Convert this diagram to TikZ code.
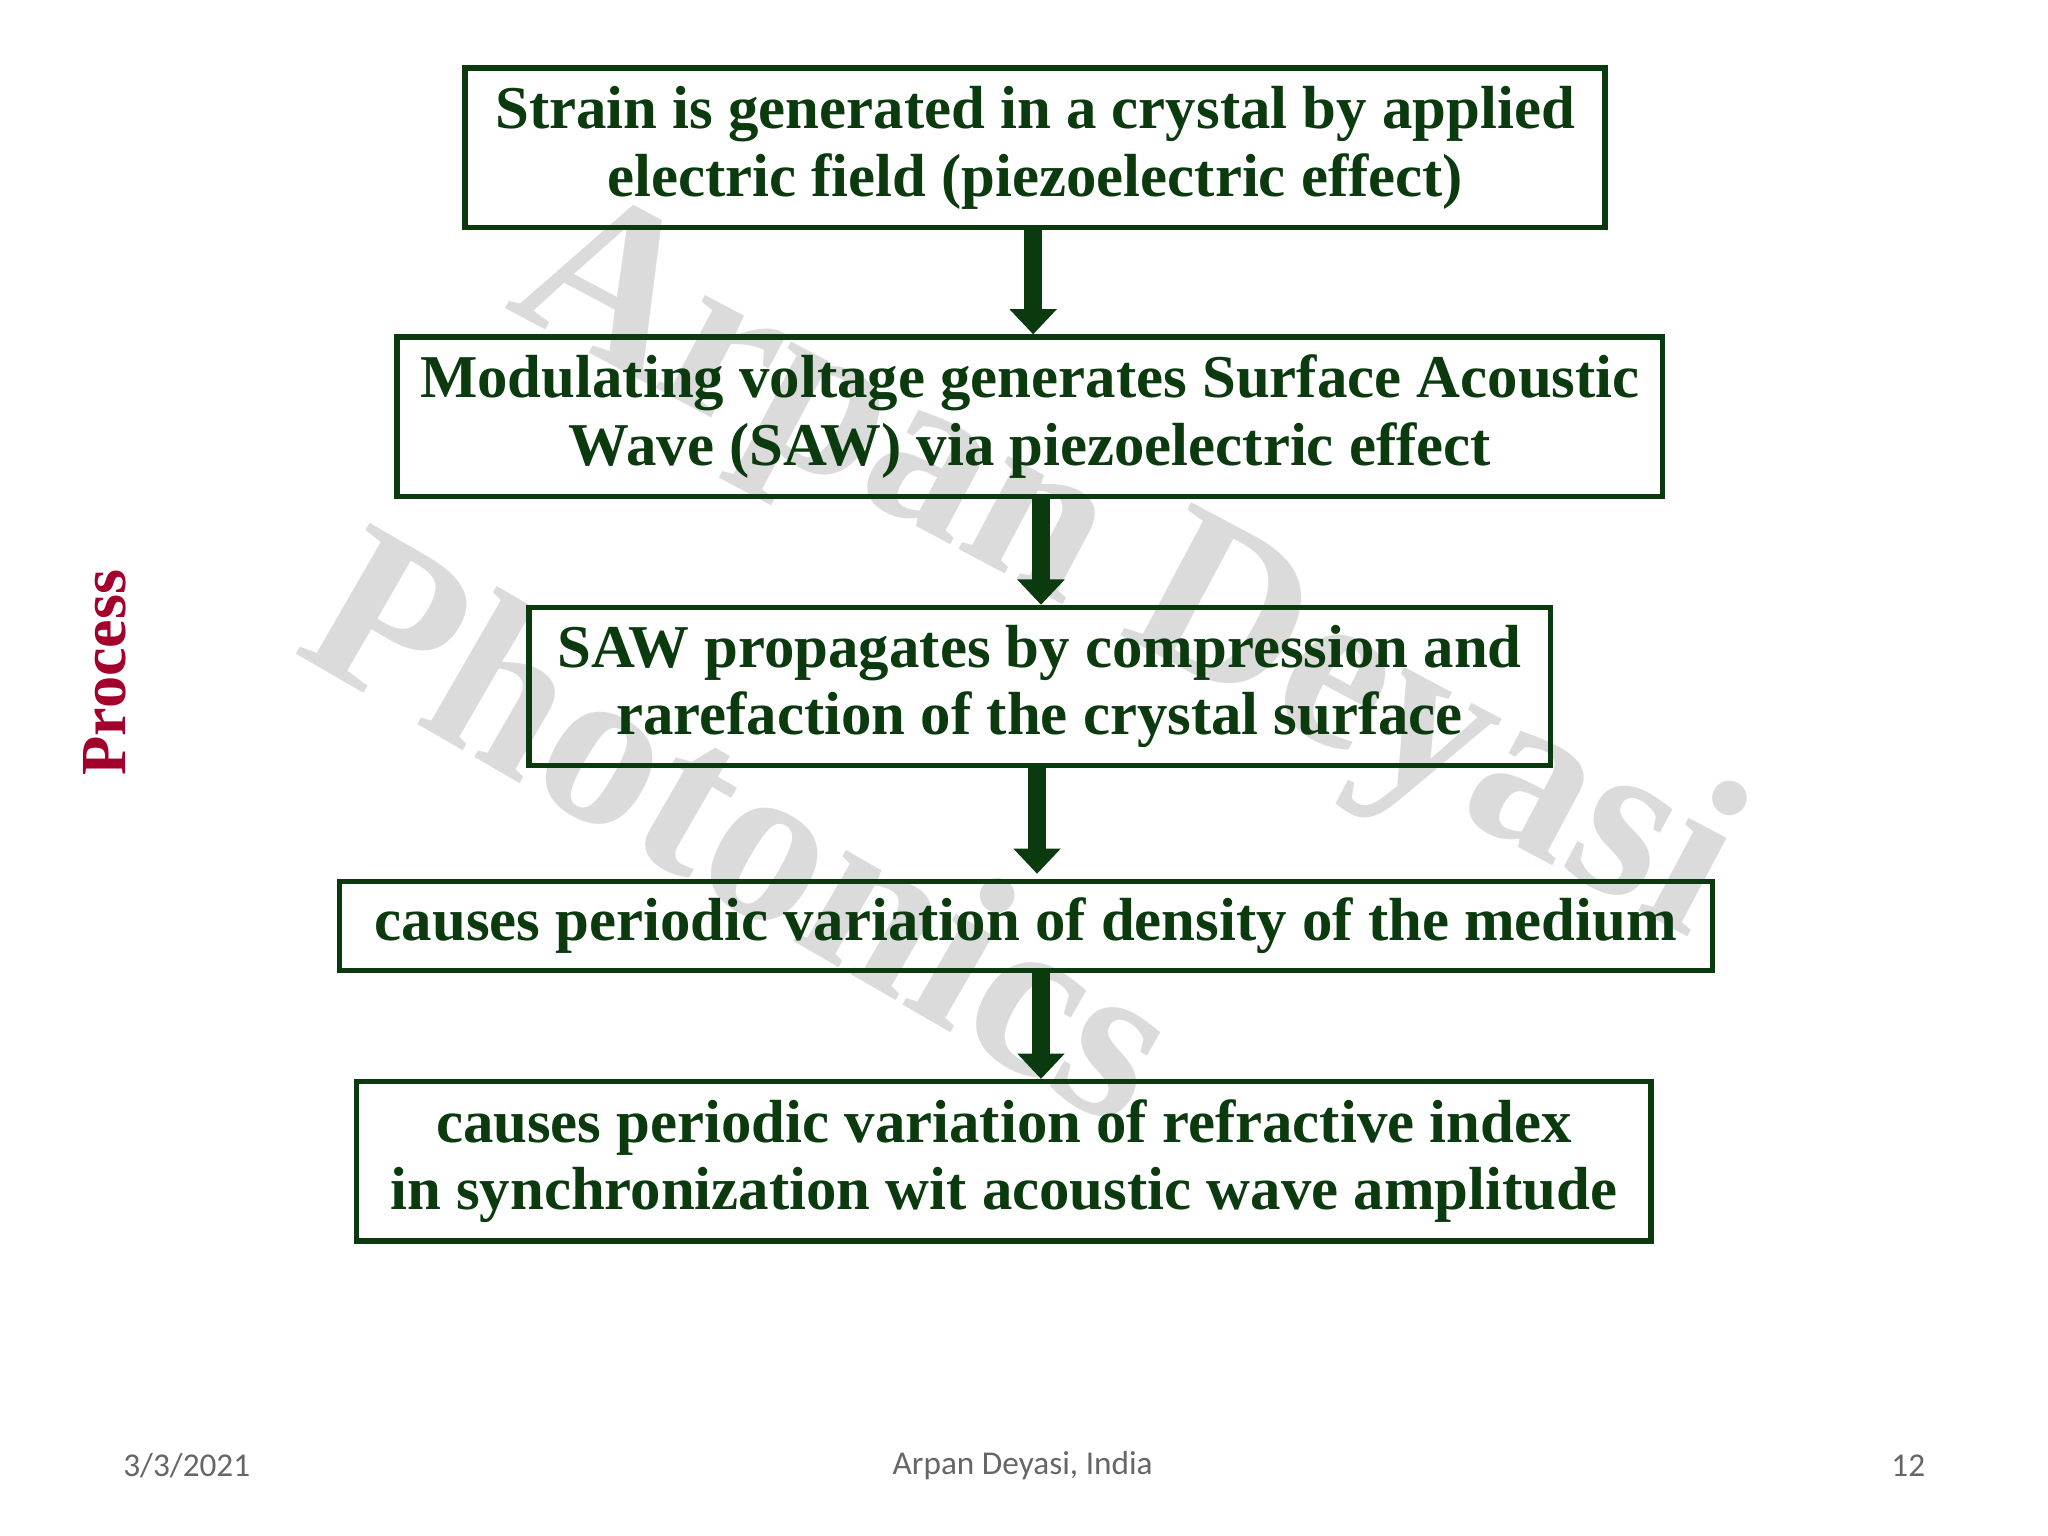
\documentclass[tikz,border=0pt]{standalone}
\usepackage{fontspec}
\setmainfont{Liberation Serif}
\newfontfamily\footfont{Carlito}
\usetikzlibrary{arrows.meta}
\definecolor{dg}{HTML}{0B3A0E}
\definecolor{pr}{HTML}{A3002C}
\begin{document}
\begin{tikzpicture}[x=0.02cm,y=-0.02cm,
  box/.style={draw=dg,line width=2.4pt,text=dg,font=\bfseries\fontsize{26.5}{29.5}\selectfont,align=center,inner sep=0pt},
  flow/.style={draw=dg,line width=8pt,-{Triangle[length=11pt,width=20pt]},shorten <=1.2pt},
  wm/.style={text=gray!28,font=\bfseries\fontsize{100}{100}\selectfont}]
\useasboundingbox[fill=white] (0,0) rectangle (1568,1176);
\node[wm,rotate=-28] (w1) at (860,440) {Arpan Deyasi};
\node[wm,rotate=-30] (w2) at (570,630) {Photonics};
\node[box,minimum width=873*0.02cm,minimum height=122*0.02cm] (b1) at (792.5,113) {Strain is generated in a crystal by applied\\electric field (piezoelectric effect)};
\node[box,minimum width=969*0.02cm,minimum height=122*0.02cm] (b2) at (788.5,319) {Modulating voltage generates Surface Acoustic\\Wave (SAW) via piezoelectric effect};
\node[box,minimum width=782*0.02cm,minimum height=121*0.02cm] (b3) at (796,525.5) {SAW propagates by compression and\\rarefaction of the crystal surface};
\node[box,minimum width=1051*0.02cm,minimum height=68*0.02cm] (b4) at (785.5,709) {causes periodic variation of density of the medium};
\node[box,minimum width=991*0.02cm,minimum height=122*0.02cm] (b5) at (768.5,889) {causes periodic variation of refractive index\\in synchronization wit acoustic wave amplitude};
\draw[flow] (791,174) -- (791,256);
\draw[flow] (797,380) -- (797,463);
\draw[flow] (794,586) -- (794,669);
\draw[flow] (797,743) -- (797,826);
\node[rotate=90,text=pr,font=\bfseries\fontsize{28}{30}\selectfont] (p) at (80,515) {Process};
\node[text=gray!80!black,font=\footfont\fontsize{14.5}{16}\selectfont] (f1) at (143,1122) {3/3/2021};
\node[text=gray!80!black,font=\footfont\fontsize{14.5}{16}\selectfont] (f2) at (783,1122) {Arpan Deyasi, India};
\node[text=gray!80!black,font=\footfont\fontsize{14.5}{16}\selectfont] (f3) at (1461,1122) {12};
\end{tikzpicture}
\end{document}
